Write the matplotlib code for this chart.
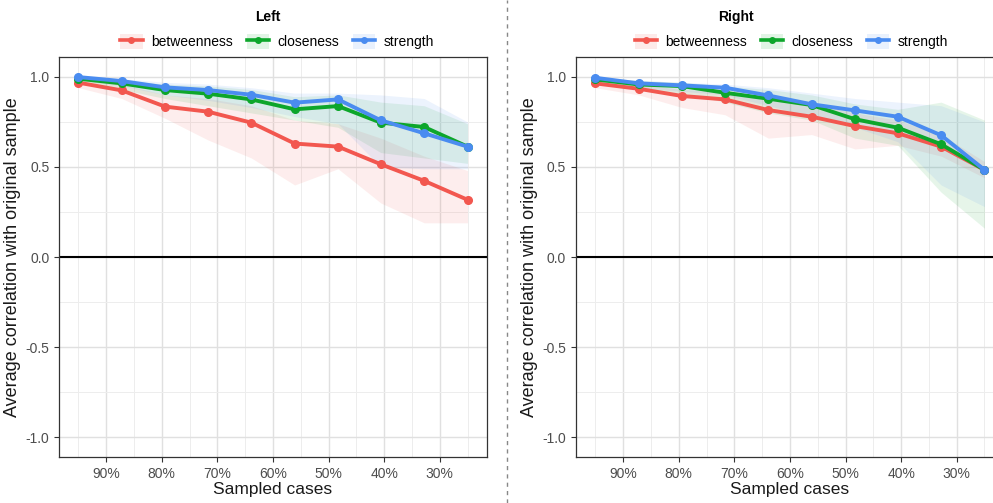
import matplotlib
matplotlib.use('Agg')
import matplotlib.pyplot as plt
from matplotlib.lines import Line2D
from matplotlib.patches import Patch
from matplotlib.legend_handler import HandlerTuple

plt.rcParams['font.family'] = ['Liberation Sans', 'DejaVu Sans']

# sampled cases (%)
sampled = [95, 87.2, 79.4, 71.7, 63.9, 56.1, 48.3, 40.6, 32.8, 25]
measures = ['betweenness', 'closeness', 'strength']
colors = ['#F2574F', '#0DA62B', '#4A8CF0']

# Left panel
left_bet = [0.968, 0.925, 0.835, 0.807, 0.746, 0.630, 0.613, 0.515, 0.423, 0.318]
left_bet_lo = [0.94, 0.88, 0.77, 0.65, 0.55, 0.40, 0.49, 0.30, 0.19, 0.19]
left_bet_hi = [0.99, 0.96, 0.90, 0.88, 0.84, 0.76, 0.74, 0.66, 0.56, 0.48]
left_clo = [0.990, 0.964, 0.927, 0.907, 0.875, 0.820, 0.838, 0.746, 0.722, 0.613]
left_clo_lo = [0.97, 0.93, 0.88, 0.84, 0.80, 0.76, 0.72, 0.58, 0.55, 0.52]
left_clo_hi = [1.0, 0.98, 0.96, 0.95, 0.93, 0.89, 0.90, 0.86, 0.84, 0.74]
left_str = [0.999, 0.977, 0.942, 0.927, 0.901, 0.857, 0.875, 0.759, 0.687, 0.613]
left_str_lo = [0.98, 0.95, 0.90, 0.87, 0.83, 0.78, 0.74, 0.50, 0.49, 0.49]
left_str_hi = [1.0, 0.99, 0.97, 0.96, 0.94, 0.91, 0.91, 0.90, 0.88, 0.75]

# Right panel
right_bet = [0.964, 0.934, 0.894, 0.875, 0.816, 0.779, 0.727, 0.687, 0.613, 0.484]
right_bet_lo = [0.94, 0.90, 0.83, 0.79, 0.66, 0.68, 0.60, 0.62, 0.56, 0.44]
right_bet_hi = [0.98, 0.96, 0.93, 0.92, 0.88, 0.85, 0.80, 0.76, 0.68, 0.53]
right_clo = [0.986, 0.958, 0.949, 0.912, 0.879, 0.844, 0.765, 0.718, 0.626, 0.484]
right_clo_lo = [0.97, 0.93, 0.91, 0.86, 0.80, 0.76, 0.66, 0.62, 0.36, 0.16]
right_clo_hi = [1.0, 0.98, 0.97, 0.95, 0.93, 0.90, 0.85, 0.82, 0.86, 0.76]
right_str = [0.995, 0.964, 0.953, 0.940, 0.897, 0.848, 0.814, 0.779, 0.676, 0.484]
right_str_lo = [0.98, 0.94, 0.92, 0.90, 0.84, 0.78, 0.72, 0.64, 0.40, 0.28]
right_str_hi = [1.0, 0.98, 0.97, 0.96, 0.94, 0.91, 0.88, 0.86, 0.84, 0.75]

x_ticks = [90, 80, 70, 60, 50, 40, 30]
x_labels = ['90%', '80%', '70%', '60%', '50%', '40%', '30%']
y_ticks = [-1.0, -0.5, 0.0, 0.5, 1.0]
y_labels = ['-1.0', '-0.5', '0.0', '0.5', '1.0']


def draw_panel(ax, title, means, los, his, legend_x, title_x):
    for m, lo, hi, c in zip(means, los, his, colors):
        ax.fill_between(sampled, lo, hi, color=c, alpha=0.1, lw=0)
    for m, c in zip(means, colors):
        ax.plot(sampled, m, color=c, lw=2.8, marker='o', ms=5.5, zorder=3)
    ax.axhline(0, color='black', lw=1.5, zorder=2)
    ax.set_xlim(98.5, 21.5)
    ax.set_ylim(-1.11, 1.11)
    ax.set_xticks(x_ticks)
    ax.set_xticklabels(x_labels)
    ax.set_xticks([95, 85, 75, 65, 55, 45, 35, 25], minor=True)
    ax.set_yticks(y_ticks)
    ax.set_yticklabels(y_labels)
    ax.set_yticks([-0.75, -0.25, 0.25, 0.75], minor=True)
    ax.grid(which='major', color='#E0E0E0', lw=1.0)
    ax.grid(which='minor', color='#EDEDED', lw=0.7)
    ax.set_axisbelow(True)
    ax.tick_params(which='major', length=3.5, color='#333333', labelsize=10,
                   labelcolor='#4D4D4D')
    ax.tick_params(which='minor', length=0)
    for s in ax.spines.values():
        s.set_color('#333333')
        s.set_linewidth(0.9)
    ax.set_xlabel('Sampled cases', fontsize=12.5, color='#1A1A1A', labelpad=1)
    ax.set_ylabel('Average correlation with original sample', fontsize=13,
                  color='#1A1A1A', labelpad=3)

    handles = [(Patch(fc=c, alpha=0.12, lw=0),
                Line2D([], [], color=c, lw=2.6, marker='o', ms=4))
               for c in colors]
    fig.legend(handles, measures, handler_map={tuple: HandlerTuple(ndivide=1)},
               loc='center', bbox_to_anchor=(legend_x, 0.917), ncol=3,
               frameon=False, fontsize=10, handlelength=1.6, handleheight=1.3,
               columnspacing=1.0, handletextpad=0.6)
    fig.text(title_x, 0.966, title, ha='center', va='center', fontsize=10,
             fontweight='bold')


fig = plt.figure(figsize=(9.93, 5.03), dpi=100)
ax1 = fig.add_axes([0.0594, 0.0915, 0.431, 0.795])
ax2 = fig.add_axes([0.580, 0.0915, 0.431, 0.795])

draw_panel(ax1, 'Left', [left_bet, left_clo, left_str],
           [left_bet_lo, left_clo_lo, left_str_lo],
           [left_bet_hi, left_clo_hi, left_str_hi], 0.279, 0.270)
draw_panel(ax2, 'Right', [right_bet, right_clo, right_str],
           [right_bet_lo, right_clo_lo, right_str_lo],
           [right_bet_hi, right_clo_hi, right_str_hi], 0.797, 0.741)

# dashed separator between the two plots
fig.add_artist(Line2D([0.5106, 0.5106], [0, 1], transform=fig.transFigure,
                      color='#888888', lw=1, ls=(0, (3, 3))))

plt.savefig('out.png', dpi=100)
plt.close('all')
